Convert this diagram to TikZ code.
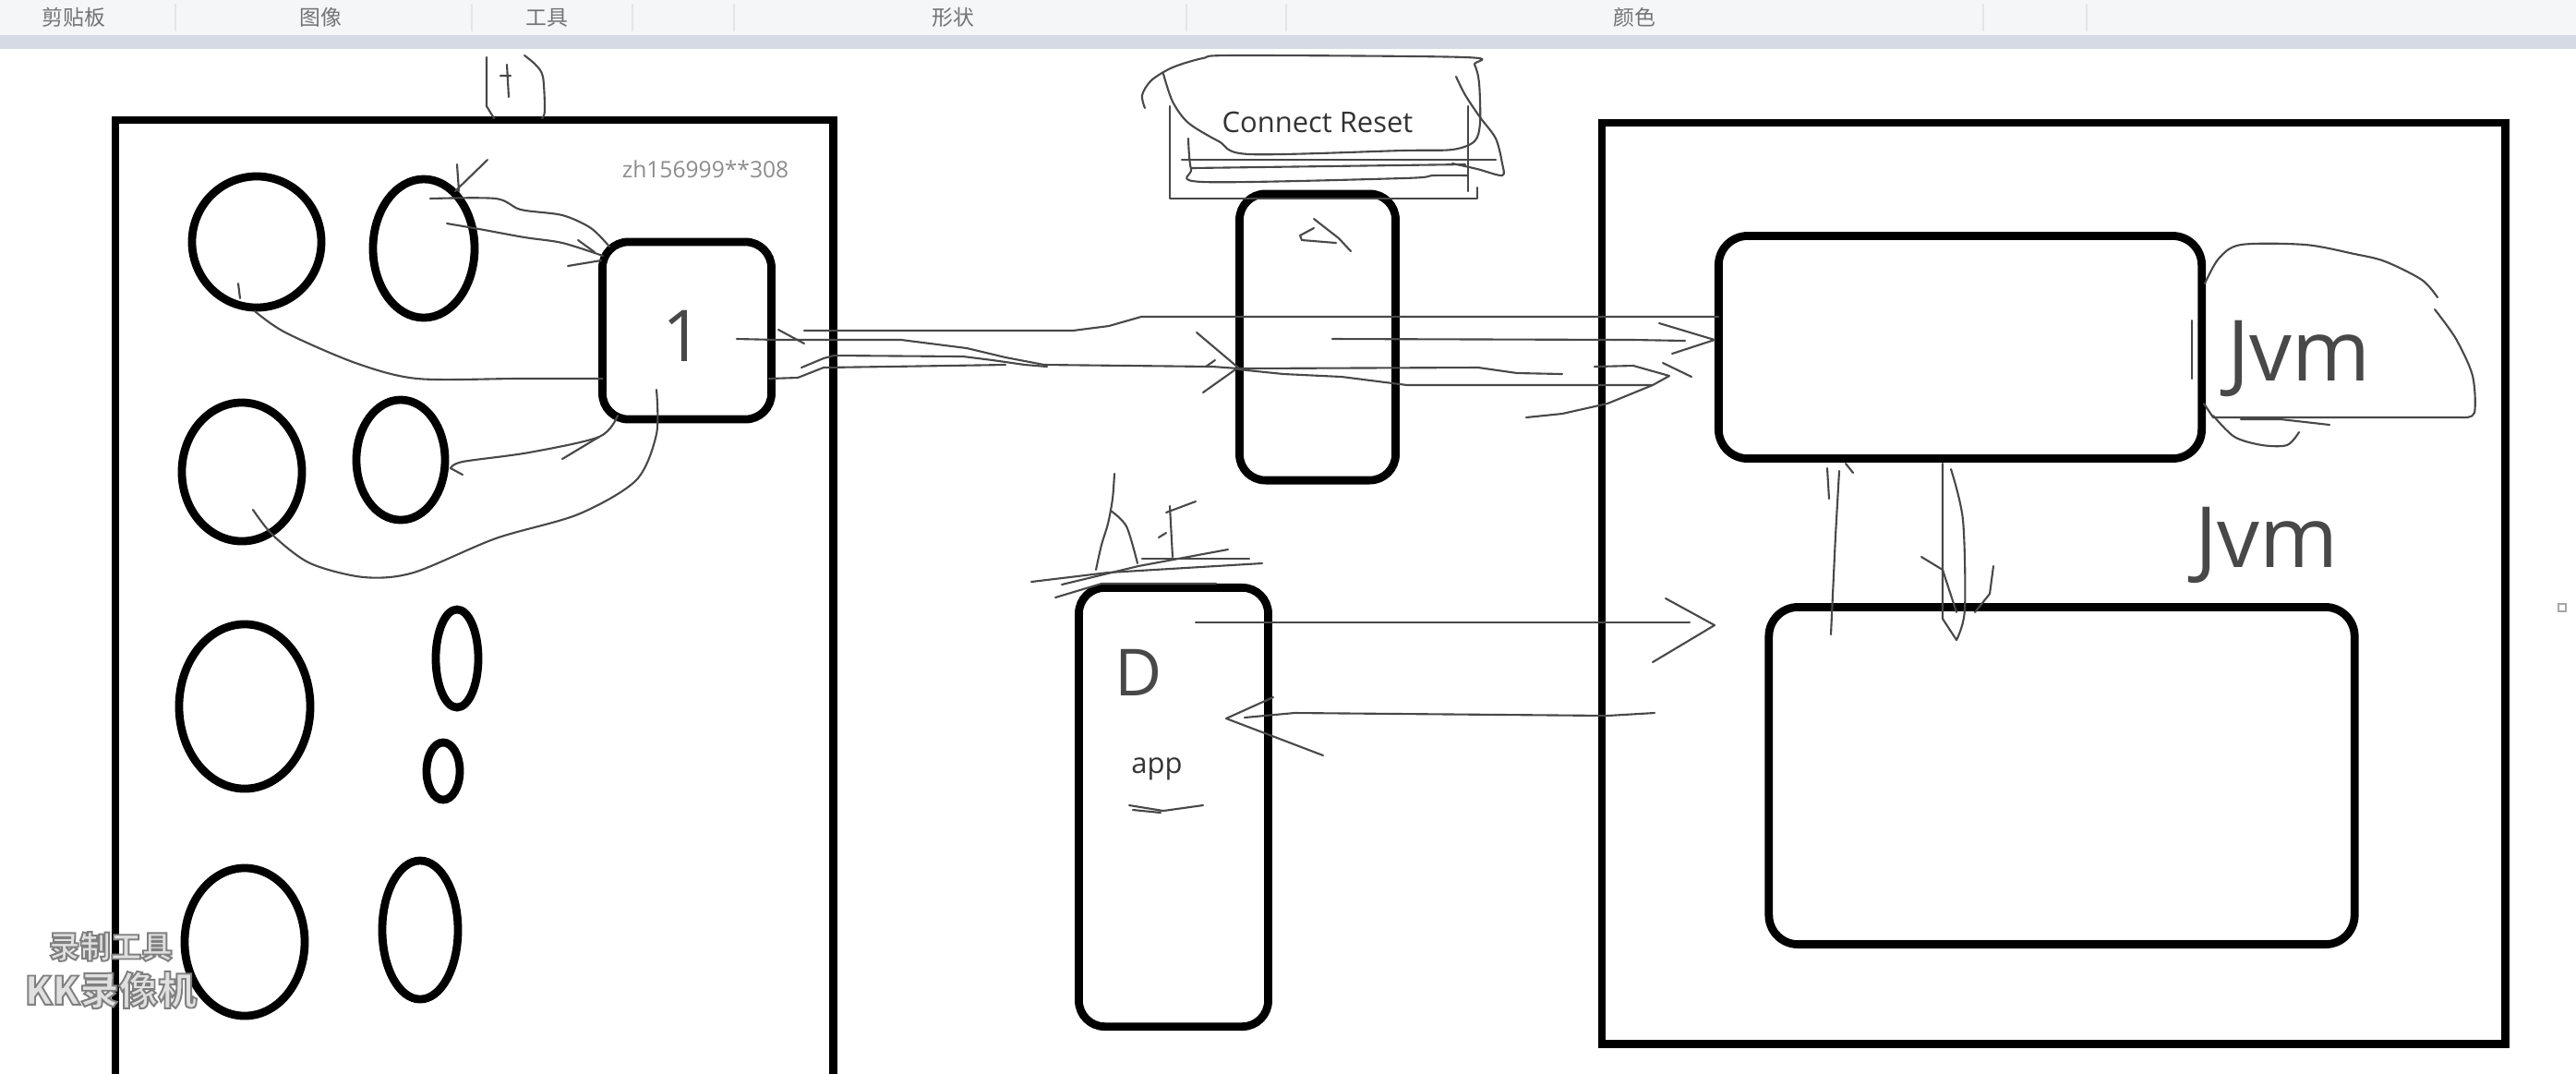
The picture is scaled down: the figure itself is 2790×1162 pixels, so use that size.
\documentclass[tikz,border=0pt]{standalone}
\usepackage{fontspec}
\setmainfont{Open Sans}
\newfontfamily\cjk{Noto Sans CJK SC}
\usetikzlibrary{shapes.geometric}

\definecolor{barfill}{HTML}{F5F6F8}
\definecolor{barline}{HTML}{D6DAE5}
\definecolor{pencil}{HTML}{484848}

\newcommand\outlined[1]{\special{pdf:literal direct 2 Tr 0.5 G 0.55 w}#1\special{pdf:literal direct 0 Tr}}

\tikzset{
  frame/.style={draw, line width=2.5pt, inner sep=0pt, outer sep=0pt},
  box/.style={frame, rounded corners=8pt},
  blob/.style={draw, ellipse, line width=2.5pt, inner sep=0pt, outer sep=0pt},
  ink/.style={draw=pencil, line width=0.6pt, line join=round, line cap=round},
  typed/.style={font=\fontsize{8.8}{10}\selectfont, text=black!80},
  hand/.style={font=\fontsize{26}{28}\selectfont, text=pencil},
  wmsmall/.style={font=\cjk\bfseries\fontsize{9.5}{10}\selectfont, text=black!12},
  wmbig/.style={font=\cjk\bfseries\fontsize{12}{13}\selectfont, text=black!12},
}

\begin{document}
\begin{tikzpicture}[x=0.01cm, y=-0.01cm]
\useasboundingbox (0,0) rectangle (2790,1162);
\clip (0,0) rectangle (2790,1162);

%% toolbar
\fill[barfill] (0,0) rectangle (2790,38);
\fill[barline] (0,38) rectangle (2790,53);
\foreach \sx in {190,511,685,795,1285,1393,2148,2260}
  \draw[black!10] (\sx,4) -- (\sx,34);
\foreach \tx/\tname in {80/剪贴板, 347/图像, 592/工具, 1032/形状, 1770/颜色}
  \node[text=black!55, font=\cjk\fontsize{6.5}{7}\selectfont] (bar\tx) at (\tx,19) {\tname};
\draw[black!35] (2771,654) rectangle (2779,662);

%% left window
\node[frame, anchor=north west, minimum width=7.77cm, minimum height=11cm] (host) at (125,130) {};
\foreach \n/\cx/\cy/\w/\h in {1/278/262/1.40/1.42, 2/459/269/1.10/1.50, 3/262/511/1.30/1.50,
    4/434/498/0.96/1.30, 5/265/765/1.42/1.78, 6/495/713/0.46/1.06, 7/480/835/0.36/0.62,
    8/265/1020/1.30/1.60, 9/455/1007/0.82/1.50}
  \node[blob, minimum width=\w cm, minimum height=\h cm] (c\n) at (\cx,\cy) {};
\node[box, minimum width=1.83cm, minimum height=1.92cm] (proxy) at (744,358) {};
\node[hand, font=\fontsize{22}{24}\selectfont] (one) at (740,364) {1};
\node[text=black!45, font=\fontsize{7}{8}\selectfont] (mark) at (764,183) {zh156999**308};

%% middle
\node[box, minimum width=1.69cm, minimum height=3.10cm] (gate) at (1427,365) {};
\node[typed] (reset) at (1427,132) {Connect Reset};
\node[box, minimum width=2.05cm, minimum height=4.75cm] (app) at (1271,874) {};
\node[hand, font=\fontsize{20}{22}\selectfont] (dlbl) at (1233,728) {D};
\node[typed] (applbl) at (1253,833) {app};

%% right window
\node[frame, anchor=north west, minimum width=9.78cm, minimum height=9.97cm] (server) at (1735,133) {};
\node[box, rounded corners=9pt, minimum width=5.23cm, minimum height=2.41cm] (jvmA) at (2123,376) {};
\node[box, rounded corners=9pt, minimum width=6.34cm, minimum height=3.65cm] (jvmB) at (2233,840) {};
\node[hand] (jvm1) at (2490,388) {Jvm};
\node[hand] (jvm2) at (2455,590) {Jvm};

%% pencil marks, left window
\draw[ink] (527,62) -- (527,115) -- (535,128);
\draw[ink] (549,70) -- (551,105) (542,82) -- (553,82);
\draw[ink] plot[smooth] coordinates {(568,60) (580,70) (588,83) (590,120) (587,128)};
\draw[ink] plot[smooth] coordinates {(466,215) (537,215) (564,227) (609,233) (640,247) (660,267)};
\draw[ink] plot[smooth] coordinates {(484,242) (519,248) (568,257) (609,263) (653,277)};
\draw[ink] (626,260) -- (644,273) (615,288) -- (651,282);
\draw[ink] (495,178) -- (497,207) (493,207) -- (528,173);
\draw[ink] (258,307) -- (260,323);
\draw[ink] plot[smooth] coordinates {(276,337) (309,360) (385,393) (452,410) (560,410) (proxy.west |- 0,410)};
\draw[ink] plot[smooth] coordinates {(669,450) (649,473) (573,490) (501,500) (488,507)};
\draw[ink] (488,507) -- (501,514) (609,497) -- (649,473);
\draw[ink] plot[smooth] coordinates {(711,422) (711,470) (689,520) (626,557) (537,583) (448,620)
  (394,625) (336,610) (296,580) (274,552)};

%% proxy to gate and server
\draw[ink] (798,367) -- (843,368) -- (976,368) -- (1047,377) -- (1089,387) -- (1131,395) -- (1313,397) -- (1341,399);
\draw[ink] (871,358) -- (1162,358) -- (1201,353) -- (1236,343) -- (jvmA.west |- 0,343);
\draw[ink] (903,385) -- (1043,386) -- (1075,390) -- (1110,395) -- (1134,397);
\draw[ink] (833,410) -- (864,409) -- (892,398) -- (962,397) -- (1089,395);
\draw[ink] (868,398) -- (892,388) -- (903,385);
\draw[ink] (843,357) -- (871,372);
\draw[ink] (1296,360) -- (1341,398) -- (1303,425) (1306,397) -- (1316,390);
\draw[ink] (1341,399) -- (1601,398) -- (1643,404) -- (1692,405);
\draw[ink] (1341,400) -- (1390,405) -- (1453,408) -- (1524,417) -- (1790,417);
\draw[ink] (1727,397) -- (1769,396) -- (1808,407) -- (1790,417) -- (1741,437) -- (1692,448) -- (1653,452);
\draw[ink] (1801,393) -- (1832,408);
\draw[ink] (1443,367) -- (1769,368) -- (1825,369);
\draw[ink] (1797,350) -- (1857,368) -- (1811,383);

%% connect reset scribble
\draw[ink] plot[smooth] coordinates {(1240,117) (1237,103) (1247,87) (1270,73) (1303,63) (1337,60)
  (1587,62) (1597,70) (1602,90) (1603,133) (1597,153) (1573,162) (1520,163) (1353,167)
  (1320,153) (1287,133) (1270,110) (1260,80)};
\draw[ink] (1267,115) -- (1267,215) -- (1600,215) -- (1600,203);
\draw[ink] (1590,115) -- (1590,207);
\draw[ink] (1280,173) -- (1620,173);
\draw[ink] (1290,182) -- (1587,178);
\draw[ink] plot[smooth] coordinates {(1287,150) (1290,183) (1303,197) (1520,193) (1553,190) (1590,190)};
\draw[ink] plot[smooth] coordinates {(1577,83) (1587,103) (1603,127) (1620,150) (1627,177) (1627,190)
  (1600,183) (1573,177)};
\draw[ink] (1423,237) -- (1450,258) -- (1463,272);
\draw[ink] (1423,247) -- (1408,255) -- (1410,260) -- (1447,263);

%% app marks and arrows
\draw[ink] plot[smooth] coordinates {(1187,617) (1193,590) (1200,567) (1205,540) (1207,513)};
\draw[ink] plot[smooth] coordinates {(1203,553) (1220,570) (1232,610)};
\draw[ink] (1267,548) -- (1270,603) (1263,555) -- (1295,543) (1255,582) -- (1263,577);
\draw[ink] (1117,630) -- (1200,620) -- (1367,610);
\draw[ink] (1150,633) -- (1233,613) -- (1330,595);
\draw[ink] (1143,647) -- (1193,632) -- (1317,632);
\draw[ink] (1237,605) -- (1353,605);
\draw[ink] (1223,872) -- (1260,878) -- (1303,872) (1227,877) -- (1257,880);
\coordinate (askout) at (1295,674);
\coordinate (askin) at (1857,677);
\draw[ink] (askout) -- (1830,674);
\draw[ink] (1804,648) -- (askin) -- (1790,717);
\coordinate (replyout) at (1792,772);
\coordinate (replyin) at (1328,778);
\draw[ink] (replyout) -- (1741,775) -- (1402,772) -- (1348,777);
\draw[ink] (1379,755) -- (replyin) -- (1433,818);

%% between the two jvm boxes
\draw[ink] (1992,510) -- (1988,580) -- (1983,687);
\draw[ink] (1979,507) -- (1981,540) (1999,502) -- (2007,512);
\draw[ink] (2104,502) -- (2104,670) -- (2119,693);
\draw[ink] plot[smooth] coordinates {(2113,508) (2126,563) (2128,660) (2119,693)};
\draw[ink] (2081,603) -- (2104,617) -- (2119,663);
\draw[ink] (2159,613) -- (2155,643) -- (2139,663);
\draw[ink] (2374,347) -- (2374,410);

%% jvm scribble
\draw[ink] plot[smooth] coordinates {(2388,307) (2403,280) (2427,265) (2497,265) (2550,275) (2583,283) (2623,303) (2640,322)};
\draw[ink] plot[smooth] coordinates {(2637,335) (2660,367) (2678,407) (2680,447) (2667,452)};
\draw[ink] (2667,452) -- (2397,452) -- (2387,437);
\draw[ink] plot[smooth] coordinates {(2397,450) (2420,473) (2450,482) (2477,482) (2490,468)};
\draw[ink] (2427,454) -- (2470,454) -- (2523,460);

%% recorder watermark
\node[wmsmall] (wm1) at (120,1025) {\outlined{录制工具}};
\node[wmbig] (wm2) at (120,1072) {\outlined{KK录像机}};

\end{tikzpicture}
\end{document}
